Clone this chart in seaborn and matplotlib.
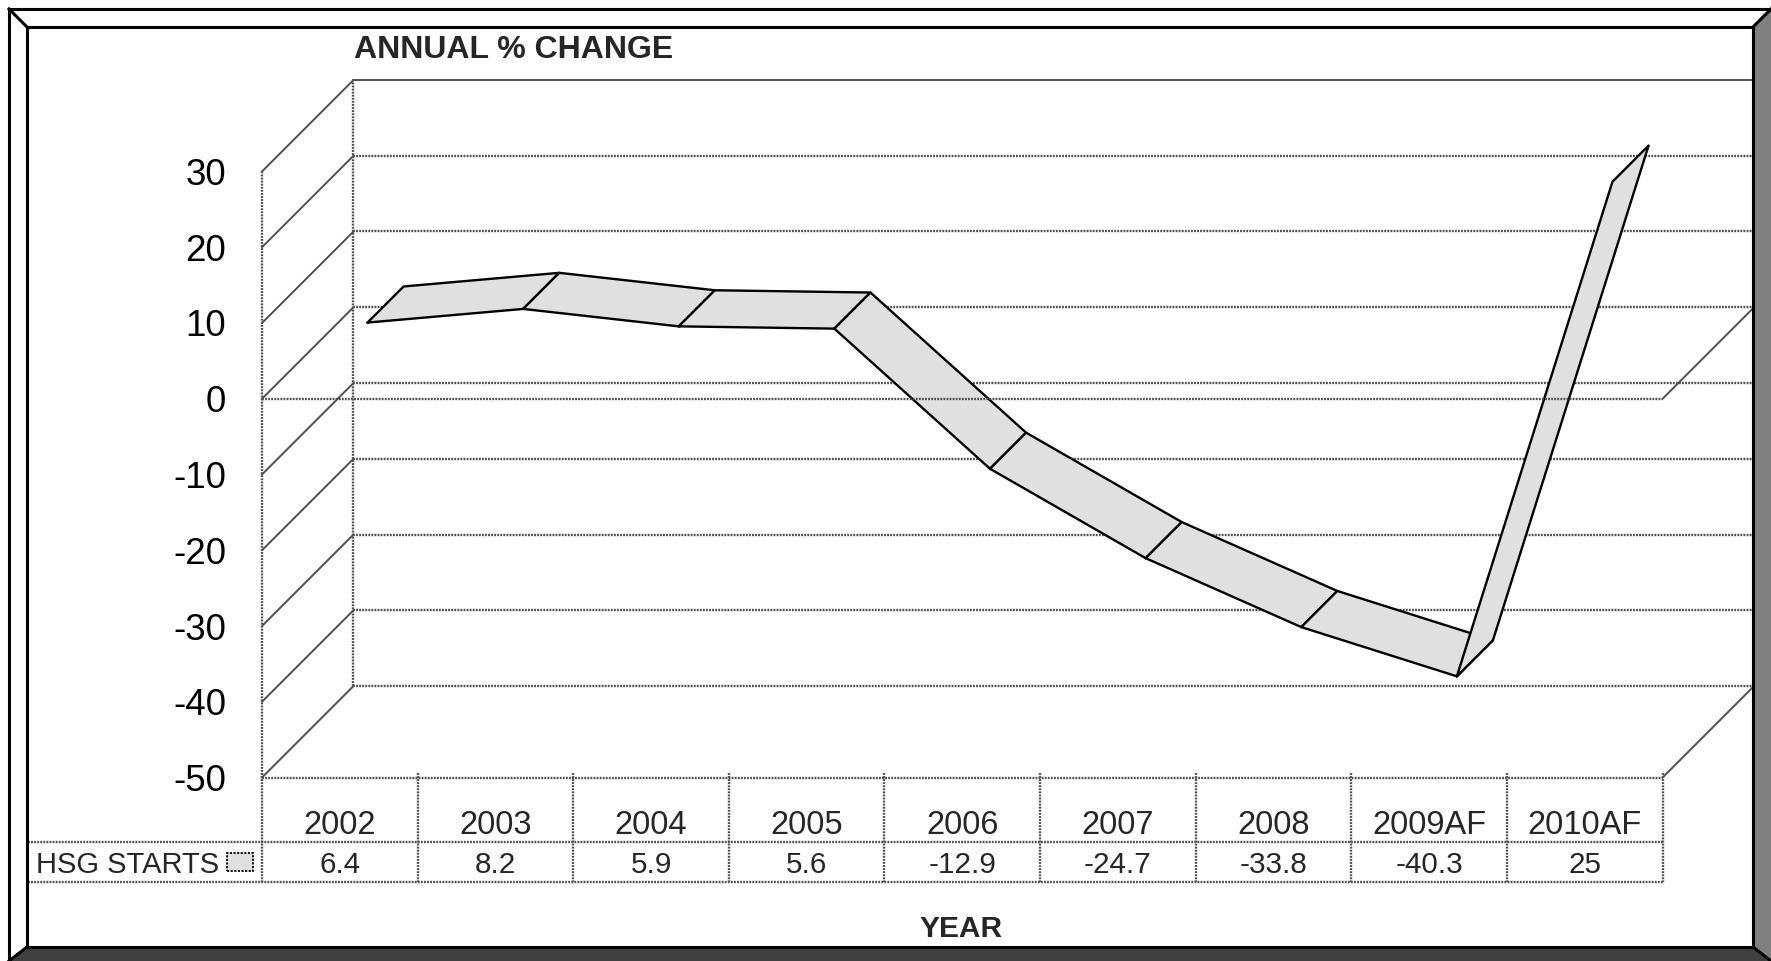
import numpy as np
import seaborn as sns
import matplotlib.pyplot as plt
from matplotlib.patches import Polygon, Rectangle

# data
years = ["2002", "2003", "2004", "2005", "2006", "2007", "2008", "2009AF", "2010AF"]
hsg_starts = [6.4, 8.2, 5.9, 5.6, -12.9, -24.7, -33.8, -40.3, 25]
y_ticks = [30, 20, 10, 0, -10, -20, -30, -40, -50]

W, H = 1771, 961

sns.set_theme(style="white")
plt.rcParams["font.family"] = ["Liberation Sans", "DejaVu Sans"]

fig = plt.figure(figsize=(W / 100, H / 100), dpi=100)
fig.patch.set_facecolor("white")

# pixel anchors of the front plane of the fake 3d box
x0_px, x1_px = 262.0, 1662.6      # left / right edge of category range
ylo_px, yhi_px = 777.5, 171.5     # y of min / max tick
depth_px = 91.5
rib_front_px, rib_back_px = 27.7, 63.8

n = len(years)
vmin, vmax = min(y_ticks), max(y_ticks)
cat_px = (x1_px - x0_px) / n
val_px = (ylo_px - yhi_px) / (vmax - vmin)


def off(d):
    # depth offset (pixels) -> data units
    return d / cat_px, d / val_px


def val_at(py):
    return vmin - (py - ylo_px) / val_px


def cat_at(px):
    return -0.5 + (px - x0_px) / cat_px


ax = fig.add_axes([0, 0, 1, 1])
ax.axis("off")

xl, xr = -0.5, n - 0.5
dx, dy = off(depth_px)

grey = "#505050"
dot_kw = dict(color=grey, lw=1.7, ls=(0, (0.8, 0.5)), zorder=1)
solid_kw = dict(color=grey, lw=1.4, zorder=1)

# walls + gridlines
for v in y_ticks:
    ax.plot([xl, xl + dx], [v, v + dy], **solid_kw)
    ax.plot([xl + dx, xr + dx], [v + dy, v + dy], **(solid_kw if v == vmax else dot_kw))
ax.plot([xl + dx, xl + dx], [vmin + dy, vmax + dy], **dot_kw)
ax.plot([xr + dx, xr + dx], [vmin + dy, vmax + dy], **dot_kw)
ax.plot([xl, xl], [vmin, vmax], **dot_kw)

# floor and zero plane
ax.plot([xl, xr], [vmin, vmin], **dot_kw)
ax.plot([xr, xr + dx], [vmin, vmin + dy], **solid_kw)
ax.plot([xr, xr + dx], [0, dy], **solid_kw)
ax.plot([xl, xr], [0, 0], **{**dot_kw, "zorder": 60})

# ribbon, one quad per segment, left to right
fx1, fy1 = off(rib_front_px)
fx2, fy2 = off(rib_back_px)
xs = np.arange(n)
for i in range(n - 1):
    qx = [xs[i] + fx1, xs[i + 1] + fx1, xs[i + 1] + fx2, xs[i] + fx2, xs[i] + fx1]
    qy = [hsg_starts[i] + fy1, hsg_starts[i + 1] + fy1,
          hsg_starts[i + 1] + fy2, hsg_starts[i] + fy2, hsg_starts[i] + fy1]
    ax.fill(qx, qy, color="#e0e0e0", lw=0, zorder=10 + 2 * i)
    sns.lineplot(x=qx, y=qy, sort=False, estimator=None, color="black",
                 lw=1.7, ax=ax, zorder=11 + 2 * i)

# y tick labels
for v in y_ticks:
    ax.text(cat_at(226), v, str(v), ha="right", va="center_baseline",
            fontsize=26.5, color="black")

# data table
r1, r2 = val_at(841.5), val_at(882.0)
tab_left = cat_at(28)
for k in range(n + 1):
    ax.plot([k - 0.5, k - 0.5], [val_at(773), r2], **dot_kw)
ax.plot([tab_left, xr], [r1, r1], **dot_kw)
ax.plot([tab_left, xr], [r2, r2], **dot_kw)
for i, (yr, v) in enumerate(zip(years, hsg_starts)):
    ax.text(i, val_at(822), yr, ha="center", va="center_baseline", fontsize=23.5)
    ax.text(i, val_at(862), f"{v:g}", ha="center", va="center_baseline", fontsize=21.3)
ax.text(cat_at(36), val_at(862), "HSG STARTS", ha="left", va="center_baseline", fontsize=21)
ax.add_patch(Rectangle((cat_at(227), val_at(871)), cat_at(253) - cat_at(227),
                       val_at(853) - val_at(871), facecolor="#e0e0e0",
                       edgecolor="black", lw=1.3, ls=(0, (1.2, 0.8)), zorder=5))

ax.text(cat_at(514), val_at(47), "ANNUAL % CHANGE", ha="center", va="center_baseline",
        fontsize=23, fontweight="bold")
ax.text(cat_at(961), val_at(926), "YEAR", ha="center", va="center_baseline",
        fontsize=21.5, fontweight="bold")

ax.set_xlim(cat_at(0), cat_at(W))
ax.set_ylim(val_at(H), val_at(0))

# bevelled frame, pixel coordinates
fr = fig.add_axes([0, 0, 1, 1], zorder=5)
fr.set_xlim(0, W)
fr.set_ylim(H, 0)
fr.axis("off")
o, i_ = 9, 27
r_in, b_in = 1753, 947
fr.add_patch(Polygon([(o, o), (W, o), (r_in, i_), (i_, i_)], facecolor="white", lw=0))
fr.add_patch(Polygon([(o, o), (i_, i_), (i_, b_in), (o, H)], facecolor="white", lw=0))
fr.add_patch(Polygon([(r_in, i_), (W, o), (W, H), (r_in, b_in)], facecolor="#808080", lw=0))
fr.add_patch(Polygon([(o, H), (i_, b_in), (r_in, b_in), (W, H)], facecolor="#404040", lw=0))
frame_kw = dict(color="black", lw=2.2, solid_capstyle="projecting")
fr.plot([o, W], [o, o], **frame_kw)
fr.plot([o, o], [o, H], **frame_kw)
fr.plot([i_, r_in, r_in, i_, i_], [i_, i_, b_in, b_in, i_], **frame_kw)
fr.plot([o, i_], [o, i_], **frame_kw)
fr.plot([i_, o], [b_in, H], **frame_kw)
fr.plot([r_in, W], [i_, o], **frame_kw)
fr.plot([r_in, W], [b_in, H], **frame_kw)

fig.savefig("out.png", dpi=100, facecolor="white")
